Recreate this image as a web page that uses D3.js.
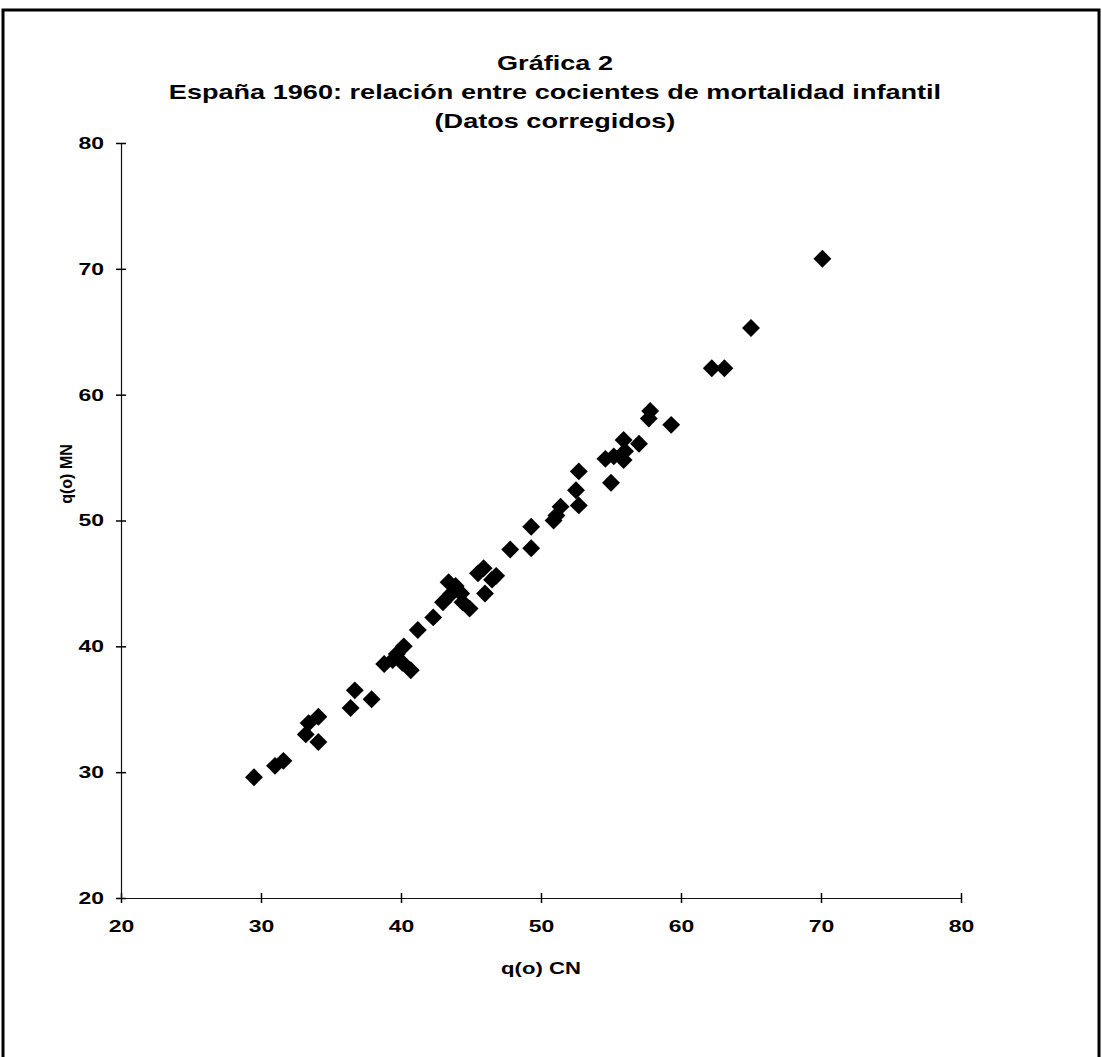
<!DOCTYPE html>
<html>
<head>
<meta charset="utf-8">
<script src="https://cdn.jsdelivr.net/npm/d3@7"></script>
<style>
  body { margin: 0; background: #fff; }
  text { font-family: "Liberation Sans", Arial, sans-serif; font-weight: bold; fill: #000; }
</style>
</head>
<body>
<svg id="chart" width="1102" height="1057"></svg>
<script>
// q(o) CN vs q(o) MN
const cn = [29.5, 31.0, 31.6, 33.2, 33.4, 34.1, 34.1, 36.4, 36.7, 37.9,
  38.8, 39.4, 39.7, 40.2, 40.1, 40.7, 41.2, 42.3, 43.0, 43.4,
  43.6, 43.9, 44.3, 44.4, 44.9, 45.5, 45.9, 46.0, 46.5, 46.8,
  47.8, 49.3, 49.3, 50.9, 51.1, 51.4, 52.5, 52.7, 52.7, 54.6,
  55.0, 55.2, 55.9, 55.9, 56.0, 57.0, 57.7, 57.8, 59.3, 62.2,
  63.1, 65.0, 70.1];
const mn = [29.6, 30.5, 30.9, 33.0, 33.9, 34.4, 32.4, 35.1, 36.5, 35.8,
  38.6, 38.9, 39.4, 40.0, 38.7, 38.1, 41.3, 42.3, 43.5, 45.1,
  44.2, 44.8, 44.2, 43.5, 43.0, 45.8, 46.2, 44.2, 45.3, 45.6,
  47.7, 47.8, 49.5, 50.0, 50.4, 51.1, 52.4, 51.2, 53.9, 54.9,
  53.0, 55.1, 56.4, 54.8, 55.5, 56.1, 58.1, 58.7, 57.6, 62.1,
  62.1, 65.3, 70.8];
const ticks = [20, 30, 40, 50, 60, 70, 80];
const titleLines = ["Gráfica 2",
  "España 1960: relación entre cocientes de mortalidad infantil",
  "(Datos corregidos)"];

// the scan is stretched sideways, so widen horizontal text a bit
const widen = (sel, k) => sel.each(function () {
  const len = this.getComputedTextLength();
  d3.select(this).attr("textLength", len * k).attr("lengthAdjust", "spacingAndGlyphs");
});

const svg = d3.select("#chart");

// scanned frame (no bottom edge)
svg.append("path")
  .attr("d", "M3,1057 V10 H1099 V1057")
  .attr("fill", "none")
  .attr("stroke", "#000")
  .attr("stroke-width", 3);

const x = d3.scaleLinear().domain([20, 80]).range([121, 961]);
const y = d3.scaleLinear().domain([20, 80]).range([898, 143]);

svg.selectAll(".title")
  .data(titleLines)
  .join("text")
  .attr("class", "title")
  .attr("x", 555)
  .attr("y", (d, i) => 70 + i * 29)
  .attr("text-anchor", "middle")
  .style("font-size", "21px")
  .text(d => d)
  .call(widen, 1.29);

// axes with cross ticks
const xAxis = svg.append("g")
  .attr("transform", `translate(0,${y(20)})`)
  .call(d3.axisBottom(x).tickValues(ticks).tickSizeInner(5).tickSizeOuter(0).tickPadding(17));
xAxis.selectAll(".tick line").attr("y1", -5).attr("stroke-width", 1.5);

const yAxis = svg.append("g")
  .attr("transform", `translate(${x(20)},0)`)
  .call(d3.axisLeft(y).tickValues(ticks).tickSizeInner(5).tickSizeOuter(0).tickPadding(12));
yAxis.selectAll(".tick line").attr("x1", 5).attr("stroke-width", 1.5);

svg.selectAll(".domain").attr("stroke", "#111").attr("stroke-width", 1.2);
svg.selectAll(".tick text")
  .style("font-size", "17px")
  .style("font-family", "'Liberation Sans', Arial, sans-serif")
  .style("font-weight", "bold")
  .call(widen, 1.35);

svg.append("text")
  .attr("x", 541)
  .attr("y", 974)
  .attr("text-anchor", "middle")
  .style("font-size", "17px")
  .text("q(o) CN")
  .call(widen, 1.3);

svg.append("text")
  .attr("transform", "translate(72,474) rotate(-90)")
  .attr("text-anchor", "middle")
  .style("font-size", "16px")
  .text("q(o) MN");

const pts = cn.map((d, i) => ({ cn: d, mn: mn[i] }));
const diamond = d3.symbol().type(d3.symbolSquare).size(160);

svg.append("g")
  .selectAll("path")
  .data(pts)
  .join("path")
  .attr("d", diamond)
  .attr("transform", d => `translate(${x(d.cn)},${y(d.mn)}) rotate(45)`)
  .attr("fill", "#000");
</script>
</body>
</html>
